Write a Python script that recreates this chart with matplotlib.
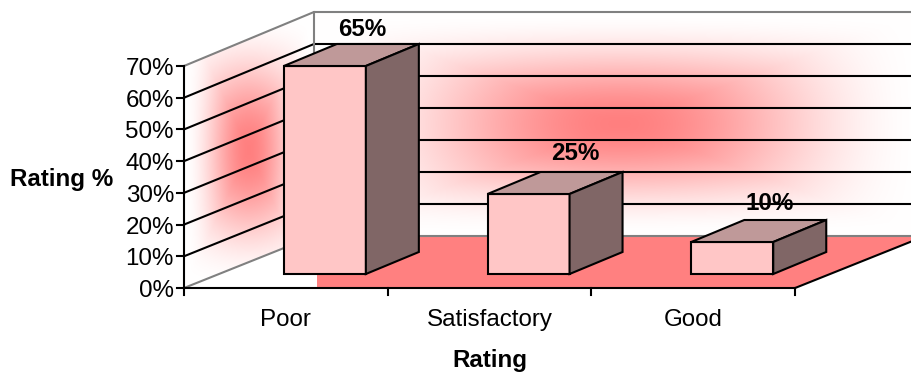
import numpy as np
import matplotlib
matplotlib.use("Agg")
import matplotlib.pyplot as plt
from matplotlib.patches import Polygon

categories = ["Poor", "Satisfactory", "Good"]
ratings = [65, 25, 10]
value_ticks = [0, 10, 20, 30, 40, 50, 60, 70]

plt.rcParams["font.family"] = ["Liberation Sans", "DejaVu Sans"]

W, H = 912, 372
fig = plt.figure(figsize=(W / 100, H / 100), dpi=100)
ax = fig.add_axes([0, 0, 1, 1])
ax.set_xlim(0, W)
ax.set_ylim(H, 0)
ax.axis("off")

# Oblique projection of the box: value runs up, category runs right, depth runs back.
X0, Y0 = 184, 288
PX_PER_PCT = 222 / 70
BAR_PX_PER_PCT = 3.2
SLOT = 203.7
DX, DY = 130, -52
TOP = max(value_ticks)
LW = 1.5
FS = 17.4


def wall_y(v):
    return Y0 - v * PX_PER_PCT


def proj(slot, value, depth=0.0):
    y = wall_y(value) + depth * (DY - 2 * value / TOP)
    return (X0 + slot * SLOT + depth * DX, y)


RIGHT = len(categories)
RED = np.array([1.0, 0.5, 0.5])
WHITE = np.array([1.0, 1.0, 1.0])


def falloff(d):
    d = np.clip(d, 0, 1)
    return 1 - (3 * d**2 - 2 * d**3)


def rect_gradient(x0, x1, y0, y1, poly, z):
    """Star-shaped path gradient, red in the centre and white at the box edges."""
    xs = np.arange(x0, x1) + 0.5
    ys = np.arange(y0, y1) + 0.5
    xx, yy = np.meshgrid(xs, ys)
    su = falloff(np.abs(xx - (x0 + x1) / 2) / ((x1 - x0) / 2))
    sv = falloff(np.abs(yy - (y0 + y1) / 2) / ((y1 - y0) / 2))
    strength = np.sqrt(np.minimum(su, sv) * su * sv)[..., None]
    img = RED * strength + WHITE * (1 - strength)
    im = ax.imshow(img, extent=(x0, x1, y1, y0), zorder=z, interpolation="bilinear", aspect="auto")
    patch = Polygon(poly, closed=True, transform=ax.transData, fc="none", ec="none")
    ax.add_patch(patch)
    im.set_clip_path(patch)


back_left = proj(0, TOP, 1)
back_low = proj(0, 0, 1)
back_right_x = proj(RIGHT, 0, 1)[0]

# Back wall and side wall shading
rect_gradient(int(back_left[0]), int(back_right_x), int(back_left[1]), int(back_low[1]),
              [back_left, (back_right_x, back_left[1]), (back_right_x, back_low[1]), back_low], 1)
rect_gradient(X0, int(back_left[0]), int(back_left[1]), Y0,
              [proj(0, 0), proj(0, TOP), back_left, back_low], 1)

# Floor
floor_left = X0 + 133
ax.add_patch(Polygon([(floor_left, Y0), proj(RIGHT, 0), proj(RIGHT, 0, 1), (floor_left, back_low[1])],
                     closed=True, fc="#ff8080", ec="none", zorder=2))
ax.set_xlim(0, W)
ax.set_ylim(H, 0)

# Gridlines on both walls
for v in value_ticks:
    col = "#808080" if v in (0, TOP) else "black"
    ax.plot(*zip(proj(0, v), proj(0, v, 1)), color=col, lw=LW, zorder=3, solid_capstyle="butt")
    ax.plot(*zip(proj(0, v, 1), proj(RIGHT, v, 1)), color=col, lw=LW, zorder=3, solid_capstyle="butt")
ax.plot(*zip(back_low, back_left), color="#808080", lw=LW, zorder=3)
ax.plot(*zip(proj(RIGHT, 0), proj(RIGHT, 0, 1)), color="black", lw=LW, zorder=4)

# Axis lines and ticks
ax.plot(*zip(proj(0, 0), proj(0, TOP)), color="black", lw=LW, zorder=5)
ax.plot(*zip(proj(0, 0), proj(RIGHT, 0)), color="black", lw=LW, zorder=5)
for v in value_ticks:
    x, y = proj(0, v)
    ax.plot([x - 6.5, x], [y, y], color="black", lw=LW, zorder=5)
    ax.text(x - 10, y + 3, f"{v}%", ha="right", va="center", fontsize=FS, color="black")
for i in range(RIGHT + 1):
    x, y = proj(i, 0)
    ax.plot([x, x], [y, y + 7], color="black", lw=LW, zorder=5)
for i, name in enumerate(categories):
    x, y = proj(i + 0.5, 0)
    ax.text(x, 326, name, ha="center", va="baseline", fontsize=FS, color="black")

# Bars
BAR_X_SHIFT, BAR_HALF = 39, 41
BAR_BASE = 14
BAR_DX, BAR_DY = 53, -22
FRONT, TOP_FACE, SIDE = "#ffc6c6", "#bf9999", "#806666"
label_offsets = [(37, -36), (47, -41), (37, -39)]
for i, val in enumerate(ratings):
    xc = proj(i + 0.5, 0)[0] + BAR_X_SHIFT
    l, r = xc - BAR_HALF, xc + BAR_HALF
    b = Y0 - BAR_BASE
    t = b - val * BAR_PX_PER_PCT
    style = dict(closed=True, ec="black", lw=LW, joinstyle="miter", zorder=6)
    ax.add_patch(Polygon([(l, b), (r, b), (r, t), (l, t)], fc=FRONT, **style))
    ax.add_patch(Polygon([(l, t), (r, t), (r + BAR_DX, t + BAR_DY), (l + BAR_DX, t + BAR_DY)], fc=TOP_FACE, **style))
    ax.add_patch(Polygon([(r, b), (r + BAR_DX, b + BAR_DY), (r + BAR_DX, t + BAR_DY), (r, t)], fc=SIDE, **style))
    dx, dy = label_offsets[i]
    ax.text(xc + dx, t + dy, f"{val}%", ha="center", va="center", fontsize=FS,
            fontweight="bold", color="black", zorder=7)

# Axis titles
ax.text(62, 179.5, "Rating %", ha="center", va="center", fontsize=FS, fontweight="bold")
ax.text(490, 360, "Rating", ha="center", va="center", fontsize=FS, fontweight="bold")

fig.savefig("out.png", dpi=100)
